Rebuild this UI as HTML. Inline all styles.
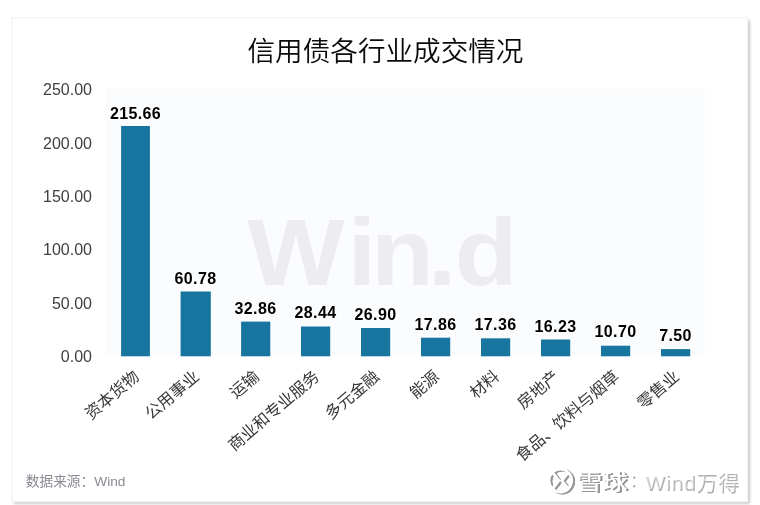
<!DOCTYPE html>
<html lang="zh-CN">
<head>
<meta charset="utf-8">
<title>信用债各行业成交情况</title>
<style>
html,body{margin:0;padding:0;background:#fff;}
body{width:760px;height:505px;overflow:hidden;position:relative;font-family:"Liberation Sans","Noto Sans CJK SC",sans-serif;}
svg{position:absolute;left:0;top:0;display:block;}
text{font-family:"Liberation Sans","Noto Sans CJK SC",sans-serif;}
.title{font-size:27.6px;fill:#0a0a0a;font-weight:350;}
.yl{font-size:16px;fill:#404040;}
.vl{font-size:16px;font-weight:bold;fill:#000;letter-spacing:0.35px;}
.xl{font-size:16.2px;fill:#383838;}
.src{font-size:13.7px;fill:#8a8a92;}
.wm{font-size:100px;font-weight:bold;fill:#ededf0;}
</style>
</head>
<body>
<svg width="760" height="505" viewBox="0 0 760 505">
<defs>
<filter id="emb" filterUnits="userSpaceOnUse" x="540" y="460" width="100" height="42" color-interpolation-filters="sRGB">
<feOffset in="SourceAlpha" dx="1.5" dy="1.3" result="o"/>
<feGaussianBlur in="o" stdDeviation="0.55" result="b0"/>
<feComponentTransfer in="b0" result="b"><feFuncA type="linear" slope="1.4"/></feComponentTransfer>
<feFlood flood-color="#969696"/><feComposite in2="b" operator="in" result="s"/>
<feMerge><feMergeNode in="s"/><feMergeNode in="SourceGraphic"/></feMerge>
</filter>
<filter id="emb2" filterUnits="userSpaceOnUse" x="620" y="460" width="130" height="42" color-interpolation-filters="sRGB">
<feOffset in="SourceAlpha" dx="1.3" dy="1.5" result="o"/>
<feGaussianBlur in="o" stdDeviation="0.45" result="b"/>
<feFlood flood-color="#b0b0b0"/><feComposite in2="b" operator="in" result="s"/>
<feComponentTransfer in="SourceGraphic" result="t"><feFuncA type="linear" slope="0.45"/></feComponentTransfer>
<feMerge><feMergeNode in="s"/><feMergeNode in="t"/></feMerge>
</filter>
<filter id="sh" x="-5%" y="-5%" width="110%" height="110%"><feGaussianBlur stdDeviation="1.5"/></filter>
</defs>
<rect x="0" y="0" width="760" height="505" fill="#ffffff"/>
<rect x="14" y="20.5" width="735.8" height="483.2" fill="#bcbcbc" filter="url(#sh)" opacity="0.9"/>
<rect x="11.9" y="17.9" width="735.6" height="483.6" fill="#ffffff" stroke="#f4f4f4" stroke-width="1.4"/>
<rect x="106" y="88.7" width="599.2" height="267.5" fill="#fbfcfe"/>
<text class="wm" transform="translate(0,285) scale(1.03,0.95)" x="240.1 337.4 360.3 415.2 441.5" y="0">Win.d</text>
<text class="title" x="385.5" y="61.1" text-anchor="middle">信用债各行业成交情况</text>
<text class="yl" x="92" y="95.1" text-anchor="end">250.00</text>
<text class="yl" x="92" y="148.5" text-anchor="end">200.00</text>
<text class="yl" x="92" y="201.9" text-anchor="end">150.00</text>
<text class="yl" x="92" y="255.3" text-anchor="end">100.00</text>
<text class="yl" x="92" y="308.7" text-anchor="end">50.00</text>
<text class="yl" x="92" y="362.1" text-anchor="end">0.00</text>
<rect x="121.1" y="126.0" width="28.8" height="230.3" fill="#17759f"/>
<text class="vl" x="135.5" y="118.5" text-anchor="middle">215.66</text>
<text class="xl" transform="translate(140.3,378.2) rotate(-40.5)" text-anchor="end">资本货物</text>
<rect x="180.6" y="291.5" width="30.2" height="64.8" fill="#17759f"/>
<text class="vl" x="195.5" y="283.9" text-anchor="middle">60.78</text>
<text class="xl" transform="translate(200.3,378.2) rotate(-40.5)" text-anchor="end">公用事业</text>
<rect x="241.1" y="321.6" width="29.2" height="34.7" fill="#17759f"/>
<text class="vl" x="255.5" y="313.7" text-anchor="middle">32.86</text>
<text class="xl" transform="translate(260.3,378.2) rotate(-40.5)" text-anchor="end">运输</text>
<rect x="301.0" y="326.5" width="29.2" height="29.8" fill="#17759f"/>
<text class="vl" x="315.5" y="318.4" text-anchor="middle">28.44</text>
<text class="xl" transform="translate(320.3,378.2) rotate(-40.5)" text-anchor="end">商业和专业服务</text>
<rect x="361.0" y="328.0" width="29.2" height="28.3" fill="#17759f"/>
<text class="vl" x="375.5" y="320.1" text-anchor="middle">26.90</text>
<text class="xl" transform="translate(380.3,378.2) rotate(-40.5)" text-anchor="end">多元金融</text>
<rect x="421.0" y="337.7" width="29.2" height="18.6" fill="#17759f"/>
<text class="vl" x="435.5" y="329.7" text-anchor="middle">17.86</text>
<text class="xl" transform="translate(440.3,378.2) rotate(-40.5)" text-anchor="end">能源</text>
<rect x="481.0" y="338.3" width="29.2" height="18.0" fill="#17759f"/>
<text class="vl" x="495.5" y="330.3" text-anchor="middle">17.36</text>
<text class="xl" transform="translate(500.3,378.2) rotate(-40.5)" text-anchor="end">材料</text>
<rect x="541.0" y="339.5" width="29.2" height="16.8" fill="#17759f"/>
<text class="vl" x="555.5" y="331.5" text-anchor="middle">16.23</text>
<text class="xl" transform="translate(560.3,378.2) rotate(-40.5)" text-anchor="end">房地产</text>
<rect x="601.0" y="345.7" width="29.2" height="10.6" fill="#17759f"/>
<text class="vl" x="615.5" y="337.4" text-anchor="middle">10.70</text>
<text class="xl" transform="translate(620.3,378.2) rotate(-40.5)" text-anchor="end">食品、饮料与烟草</text>
<rect x="661.0" y="349.1" width="29.2" height="7.2" fill="#17759f"/>
<text class="vl" x="675.5" y="340.8" text-anchor="middle">7.50</text>
<text class="xl" transform="translate(680.3,378.2) rotate(-40.5)" text-anchor="end">零售业</text>
<text class="src" x="25.8" y="486.1">数据来源：Wind</text>
<g id="xq">
<g filter="url(#emb)" fill="#ffffff" stroke="#ffffff">
<circle cx="560.3" cy="480.6" r="11.4" fill="none" stroke-width="2.8"/>
<path d="M552.6 472.6 L558.8 480.6 L552.6 488.6 M568 472.6 L561.8 480.6 L568 488.6" fill="none" stroke-width="3"/>
<text transform="translate(576.4,488.6) scale(1.13,0.924)" font-size="22.6" font-weight="500" stroke="none">雪球</text>
</g>
<text filter="url(#emb2)" fill="#ffffff" font-size="21" y="488.8"><tspan x="629.3" y="485.3" font-size="16">：</tspan><tspan x="645" y="488.6" letter-spacing="0.8">Wind万得</tspan></text>
</g>
</svg>
</body>
</html>
